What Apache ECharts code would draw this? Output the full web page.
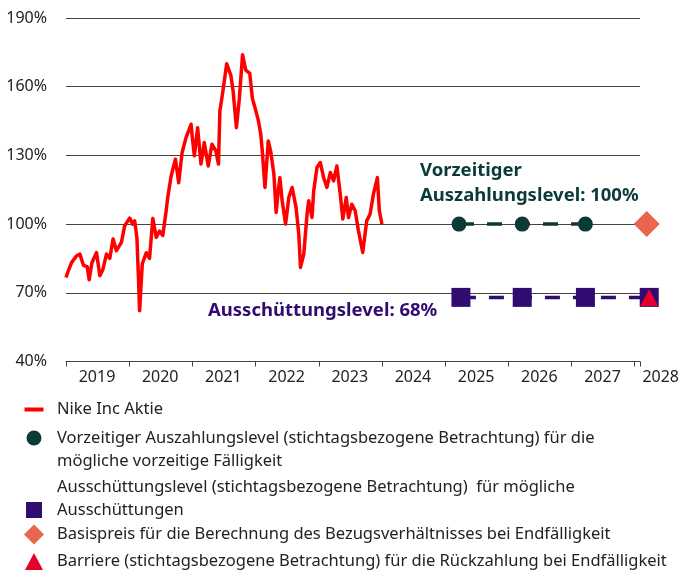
<!DOCTYPE html>
<html>
  <head>
    <meta charset="utf-8" />
    <script src="https://cdn.jsdelivr.net/npm/echarts@6/dist/echarts.min.js"></script>
  </head>
  <body style="margin:0;">
  <div id="main" style="width: 682px;height:573px;"></div>

  <script type="text/javascript">
    // Zeitachse in Dezimaljahren
    var stockYears = [2019.000, 2019.036, 2019.090, 2019.168, 2019.220, 2019.276, 2019.335, 2019.367, 2019.409, 2019.483,
      2019.535, 2019.582, 2019.641, 2019.693, 2019.745, 2019.798, 2019.877, 2019.929, 2020.008, 2020.055,
      2020.087, 2020.122, 2020.149, 2020.165, 2020.207, 2020.270, 2020.322, 2020.374, 2020.428, 2020.480,
      2020.532, 2020.585, 2020.610, 2020.664, 2020.732, 2020.784, 2020.837, 2020.900, 2020.979, 2020.999,
      2021.031, 2021.083, 2021.136, 2021.188, 2021.251, 2021.309, 2021.372, 2021.413, 2021.435, 2021.476,
      2021.543, 2021.609, 2021.645, 2021.697, 2021.744, 2021.794, 2021.845, 2021.908, 2021.949, 2021.991,
      2022.043, 2022.081, 2022.106, 2022.149, 2022.201, 2022.238, 2022.290, 2022.326, 2022.353, 2022.385,
      2022.421, 2022.475, 2022.526, 2022.578, 2022.641, 2022.684, 2022.711, 2022.763, 2022.815, 2022.841,
      2022.893, 2022.920, 2022.972, 2023.025, 2023.077, 2023.129, 2023.183, 2023.235, 2023.287, 2023.340,
      2023.381, 2023.435, 2023.471, 2023.523, 2023.577, 2023.628, 2023.696, 2023.759, 2023.813, 2023.865,
      2023.928, 2023.959, 2024.000];
    // Nike Inc Aktie in % des Startwerts
    var stockValues = [76.7, 79.6, 83.3, 86.2, 86.9, 82.0, 81.4, 75.7, 83.0, 87.6,
      77.5, 80.0, 86.9, 85.0, 93.5, 88.4, 92.0, 99.3, 102.6, 100.0,
      101.4, 94.2, 75.0, 62.2, 82.6, 87.5, 85.0, 102.5, 94.2, 97.0,
      95.0, 105.8, 111.6, 121.0, 128.3, 118.1, 131.2, 137.8, 143.6, 138.0,
      129.8, 142.1, 126.2, 135.6, 125.4, 134.9, 132.0, 126.2, 149.4, 156.7,
      170.0, 165.0, 158.0, 142.1, 155.0, 174.0, 167.2, 165.8, 155.0, 150.8,
      145.4, 139.5, 132.0, 116.0, 136.3, 132.0, 121.8, 105.1, 113.0, 120.3,
      110.2, 100.0, 111.6, 116.0, 107.2, 95.6, 81.1, 86.9, 104.4, 110.2,
      102.9, 114.5, 124.7, 126.9, 120.3, 116.0, 122.5, 118.9, 125.4, 113.1,
      102.2, 111.6, 102.9, 108.7, 105.8, 97.1, 87.6, 101.4, 104.4, 113.1,
      120.3, 105.8, 100.0];

    var callYears = [2025.22, 2026.22, 2027.22];
    var callLevels = [100, 100, 100];

    var couponYears = [2025.25, 2026.22, 2027.22, 2028.23];
    var couponLevels = [68, 68, 68, 68];

    var strikeYears = [2028.19];
    var strikeLevels = [100];

    var barrierYears = [2028.23];
    var barrierLevels = [68];

    var yearLabels = [2019, 2020, 2021, 2022, 2023, 2024, 2025, 2026, 2027, 2028];

    var names = [
      'Nike Inc Aktie',
      'Vorzeitiger Auszahlungslevel',
      'Ausschüttungslevel',
      'Basispreis',
      'Barriere'
    ];
    // Legendentexte; leere Zeile schiebt das Symbol auf die richtige Zeile
    var legendTexts = [
      'Nike Inc Aktie',
      ' \nVorzeitiger Auszahlungslevel (stichtagsbezogene Betrachtung) für die\nmögliche vorzeitige Fälligkeit',
      'Ausschüttungslevel (stichtagsbezogene Betrachtung)  für mögliche\nAusschüttungen\n ',
      'Basispreis für die Berechnung des Bezugsverhältnisses bei Endfälligkeit',
      'Barriere (stichtagsbezogene Betrachtung) für die Rückzahlung bei Endfälligkeit'
    ];

    function zip(xs, ys) {
      return xs.map(function (x, i) { return [x, ys[i]]; });
    }

    var FONT = 'Noto Sans';
    var TEAL = '#0b3a39';
    var PURPLE = '#300b70';

    // eine Legende pro Eintrag, damit die Zeilen frei positioniert werden können
    function legendItem(i, icon, w, h, top) {
      return {
        data: [{ name: names[i], icon: icon }],
        formatter: function () { return legendTexts[i]; },
        left: 34 - w / 2,
        top: top,
        padding: 0,
        itemWidth: w,
        itemHeight: h,
        selectedMode: false,
        textStyle: {
          fontFamily: FONT,
          fontSize: 16.5,
          color: '#222',
          lineHeight: 23,
          padding: [0, 0, 0, 57 - (34 + w / 2) - 5]
        }
      };
    }

    var myChart = echarts.init(document.getElementById('main'));

    var option = {
      animation: false,
      grid: { left: 66, right: 39, top: 18, bottom: 211.5 },
      xAxis: {
        type: 'value',
        min: 2019,
        max: 2028.084,
        interval: 1,
        splitLine: { show: false },
        axisLine: { lineStyle: { color: '#444', width: 1 } },
        axisTick: { show: true, length: 5, lineStyle: { color: '#444' } },
        axisLabel: {
          fontFamily: FONT,
          fontSize: 16,
          color: '#222',
          margin: 8,
          formatter: function (v) {
            if (yearLabels.indexOf(v) < 0) return '';
            return v === 2028 ? '{last|' + v + '}' : '{n|' + v + '}';
          },
          rich: {
            n: { fontFamily: FONT, fontSize: 16, color: '#222', padding: [0, 0, 0, 62] },
            last: { fontFamily: FONT, fontSize: 16, color: '#222', padding: [0, 0, 0, 52] }
          }
        }
      },
      yAxis: {
        type: 'value',
        min: 40,
        max: 190,
        interval: 30,
        axisLine: { show: false },
        axisTick: { show: false },
        splitLine: { lineStyle: { color: '#444', width: 1 } },
        axisLabel: {
          fontFamily: FONT,
          fontSize: 16,
          color: '#222',
          margin: 19,
          formatter: '{value}%'
        }
      },
      legend: [
        legendItem(0, 'rect', 19, 4, 398),
        legendItem(1, 'circle', 15, 15, 403.5),
        legendItem(2, 'rect', 16, 16, 475.5),
        legendItem(3, 'diamond', 20, 20, 523),
        legendItem(4, 'triangle', 18, 17, 550)
      ],
      graphic: [
        {
          type: 'text', left: 420, top: 158.5,
          style: { text: 'Vorzeitiger\nAuszahlungslevel: 100%', font: 'bold 18.5px "Noto Sans"', fill: TEAL, lineHeight: 25 }
        },
        {
          type: 'text', left: 208, top: 298.5,
          style: { text: 'Ausschüttungslevel: 68%', font: 'bold 18.5px "Noto Sans"', fill: PURPLE, lineHeight: 25 }
        }
      ],
      series: [
        {
          name: names[0],
          type: 'line',
          data: zip(stockYears, stockValues),
          showSymbol: false,
          symbol: 'none',
          color: '#ff0000',
          lineStyle: { color: '#ff0000', width: 3.5, join: 'round' },
          z: 3
        },
        {
          name: names[1],
          type: 'line',
          data: zip(callYears, callLevels),
          symbol: 'circle',
          symbolSize: 15,
          color: TEAL,
          itemStyle: { color: TEAL },
          lineStyle: { color: TEAL, width: 3.5, type: [15, 13] },
          z: 4
        },
        {
          name: names[2],
          type: 'line',
          clip: false,
          data: zip(couponYears, couponLevels),
          symbol: 'rect',
          symbolSize: 19,
          color: PURPLE,
          itemStyle: { color: PURPLE },
          lineStyle: { color: PURPLE, width: 3.5, type: [15, 13] },
          z: 4
        },
        {
          name: names[3],
          type: 'scatter',
          clip: false,
          data: zip(strikeYears, strikeLevels),
          symbol: 'diamond',
          symbolSize: 26,
          itemStyle: { color: '#e8664f', opacity: 1 },
          z: 5
        },
        {
          name: names[4],
          type: 'scatter',
          clip: false,
          data: zip(barrierYears, barrierLevels),
          symbol: 'triangle',
          symbolSize: [18, 17],
          itemStyle: { color: '#e4002b', opacity: 1 },
          z: 6
        }
      ]
    };

    myChart.setOption(option);
  </script>
</body>
</html>
